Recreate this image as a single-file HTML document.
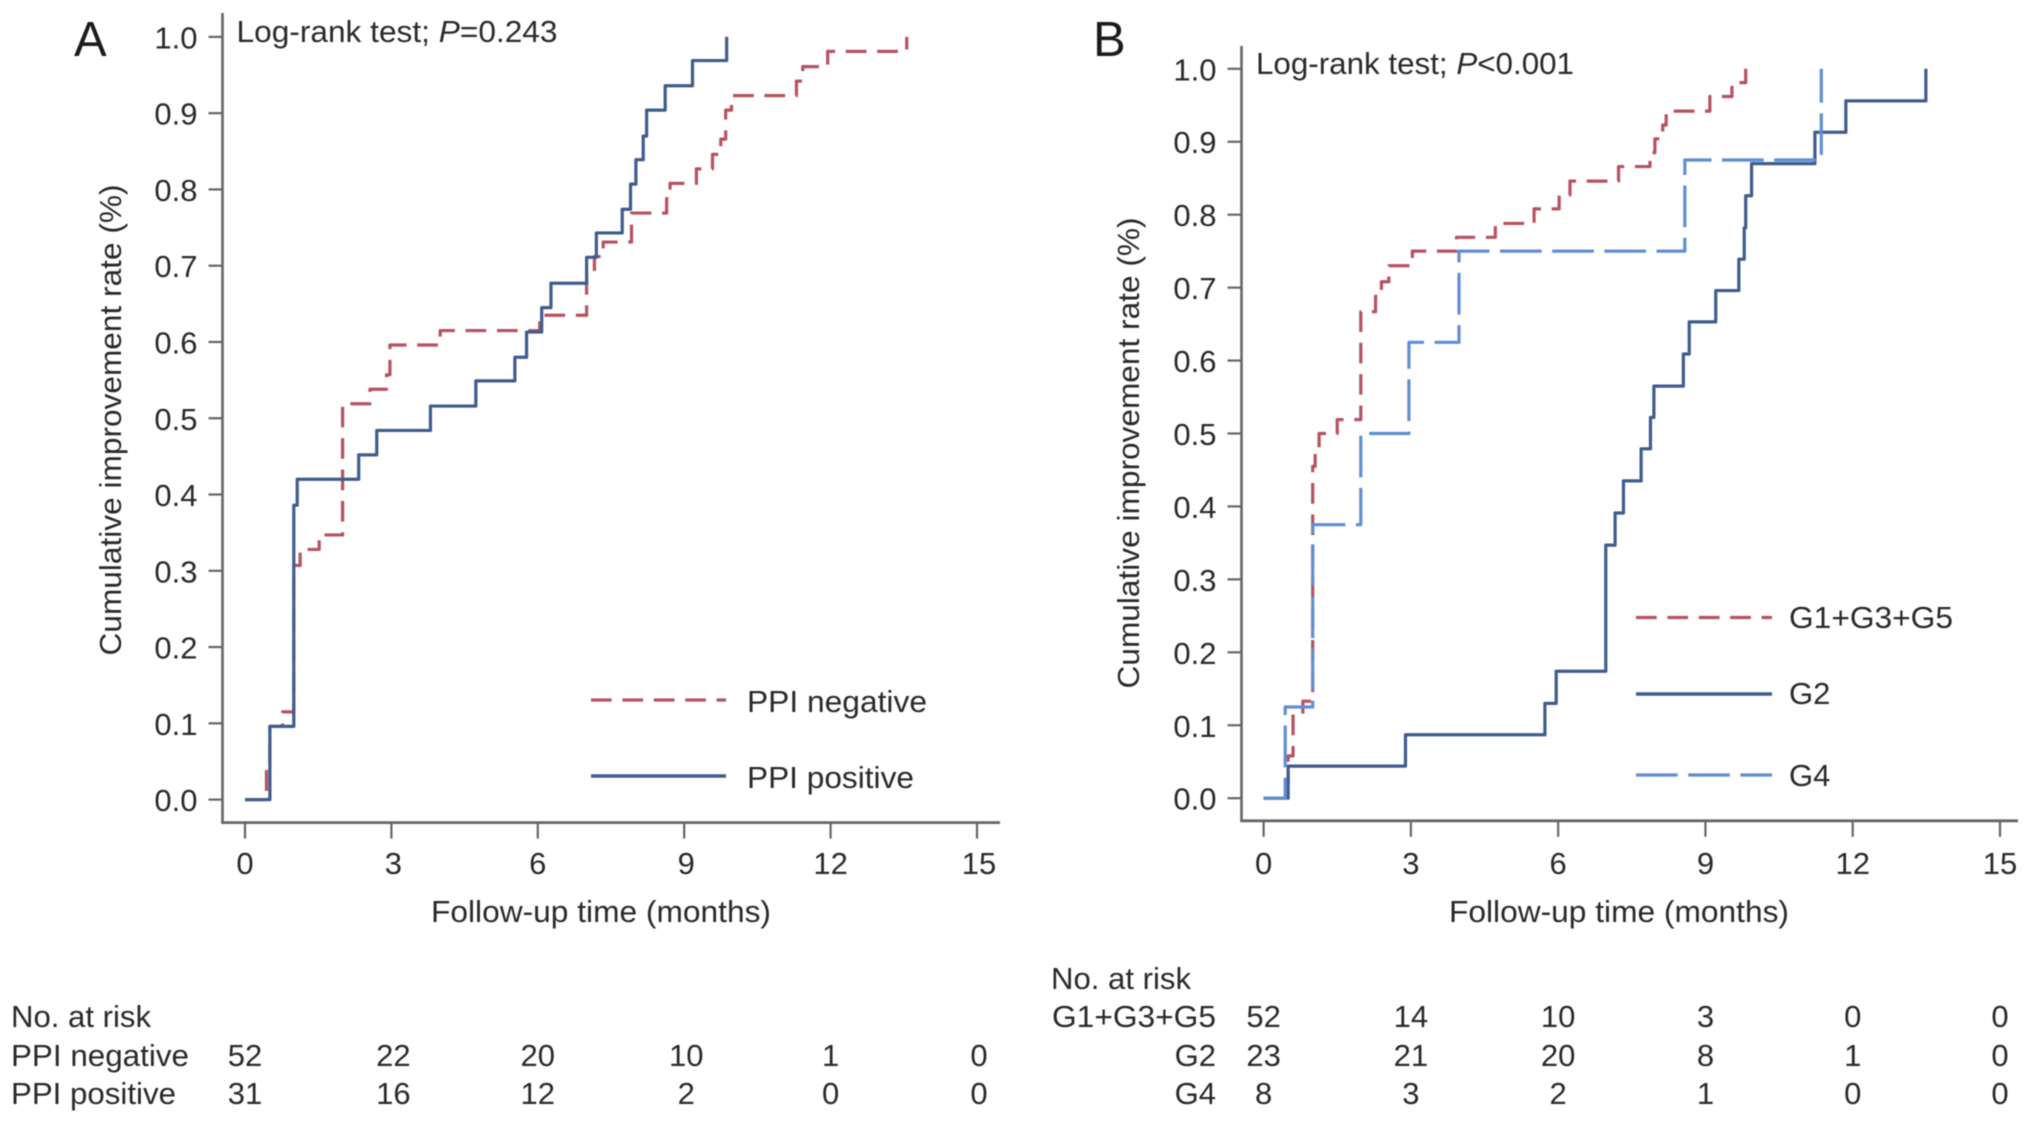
<!DOCTYPE html>
<html lang="en">
<head>
<meta charset="utf-8">
<title>Cumulative improvement rate curves</title>
<style>
  html, body { margin: 0; padding: 0; background: #fff; }
  svg { display: block; filter: blur(0.6px); }
  text { font-family: "Liberation Sans", sans-serif; font-size: 31px; fill: #2a2a2a; }
</style>
</head>
<body>
<svg id="figure" xmlns="http://www.w3.org/2000/svg" width="2032" height="1124" viewBox="0 0 2032 1124">
  <rect x="0" y="0" width="2032" height="1124" fill="#ffffff"/>

  <g id="panelA">
    <text x="74" y="56" style="font-size:49px;fill:#1c1c1c">A</text>
    <text x="236.5" y="42" textLength="321" lengthAdjust="spacingAndGlyphs">Log-rank test; <tspan font-style="italic">P</tspan>=0.243</text>
    <text transform="translate(121,420) rotate(-90)" text-anchor="middle" textLength="471" lengthAdjust="spacingAndGlyphs">Cumulative improvement rate (%)</text>
    <text x="601" y="922" text-anchor="middle" textLength="340" lengthAdjust="spacingAndGlyphs">Follow-up time (months)</text>
    <line x1="591" y1="700" x2="726" y2="700" stroke="#b7525f" stroke-width="3.2" stroke-dasharray="20.7 10.7"/>
    <text x="747" y="712" textLength="180" lengthAdjust="spacingAndGlyphs">PPI negative</text>
    <line x1="591" y1="776" x2="726" y2="776" stroke="#3f5c8e" stroke-width="3.4"/>
    <text x="747" y="788" textLength="167" lengthAdjust="spacingAndGlyphs">PPI positive</text>
    <text x="11" y="1027" textLength="140" lengthAdjust="spacingAndGlyphs">No. at risk</text>
    <text x="11" y="1066" textLength="178" lengthAdjust="spacingAndGlyphs">PPI negative</text>
    <text x="11" y="1104" textLength="165" lengthAdjust="spacingAndGlyphs">PPI positive</text>
  </g>

  <g id="panelB">
    <text x="1093" y="56" style="font-size:49px;fill:#1c1c1c">B</text>
    <text x="1256" y="74" textLength="318" lengthAdjust="spacingAndGlyphs">Log-rank test; <tspan font-style="italic">P</tspan>&lt;0.001</text>
    <text transform="translate(1139,453) rotate(-90)" text-anchor="middle" textLength="471" lengthAdjust="spacingAndGlyphs">Cumulative improvement rate (%)</text>
    <text x="1619" y="922" text-anchor="middle" textLength="340" lengthAdjust="spacingAndGlyphs">Follow-up time (months)</text>
    <line x1="1636" y1="617.5" x2="1772" y2="617.5" stroke="#b7525f" stroke-width="3.2" stroke-dasharray="20.7 10.7"/>
    <text x="1789" y="628" textLength="164" lengthAdjust="spacingAndGlyphs">G1+G3+G5</text>
    <line x1="1636" y1="694" x2="1772" y2="694" stroke="#3f5c8e" stroke-width="3.4"/>
    <text x="1789" y="704">G2</text>
    <line x1="1636" y1="775" x2="1772" y2="775" stroke="#5f8fd3" stroke-width="3.2" stroke-dasharray="41.7 10.5"/>
    <text x="1789" y="786">G4</text>
    <text x="1051" y="989" textLength="140" lengthAdjust="spacingAndGlyphs">No. at risk</text>
    <text x="1216" y="1027" text-anchor="end" textLength="164" lengthAdjust="spacingAndGlyphs">G1+G3+G5</text>
    <text x="1216" y="1066" text-anchor="end">G2</text>
    <text x="1216" y="1104" text-anchor="end">G4</text>
  </g>
</svg>

<script>
// Axis tick labels
const xTickLabels = [0, 3, 6, 9, 12, 15];
const yTickLabels = ['0.0', '0.1', '0.2', '0.3', '0.4', '0.5', '0.6', '0.7', '0.8', '0.9', '1.0'];

// Panel A: PPI negative
const ppiNegTimes = [0.44, 0.51, 0.77, 1.0, 1.13, 1.52, 2.0, 2.56, 2.9, 2.97, 4.0, 6.04, 7.0, 7.16, 7.34, 7.92, 8.64, 8.71, 9.25, 9.58, 9.75, 9.85, 9.97, 11.3, 11.43, 11.94, 13.56];
const ppiNegValues = [0.041, 0.096, 0.115, 0.307, 0.328, 0.347, 0.519, 0.538, 0.557, 0.596, 0.615, 0.635, 0.692, 0.712, 0.731, 0.769, 0.788, 0.808, 0.827, 0.846, 0.866, 0.904, 0.923, 0.942, 0.961, 0.981, 1.0];

// Panel A: PPI positive
const ppiPosTimes = [0.51, 1.0, 1.07, 2.33, 2.70, 3.80, 4.73, 5.53, 5.77, 6.08, 6.27, 7.0, 7.2, 7.73, 7.9, 8.01, 8.16, 8.23, 8.61, 9.17, 9.87];
const ppiPosValues = [0.096, 0.386, 0.42, 0.452, 0.484, 0.516, 0.549, 0.58, 0.613, 0.645, 0.677, 0.711, 0.743, 0.774, 0.807, 0.839, 0.87, 0.904, 0.936, 0.969, 1.0];

// Panel B: G1+G3+G5
const g135Times = [0.46, 0.5, 0.6, 0.8, 1.0, 1.05, 1.13, 1.5, 1.98, 2.28, 2.4, 2.55, 3.03, 3.93, 4.72, 5.51, 6.02, 6.24, 7.23, 7.87, 7.97, 8.13, 8.2, 9.09, 9.54, 9.82];
const g135Values = [0.02, 0.058, 0.115, 0.133, 0.455, 0.48, 0.5, 0.519, 0.667, 0.688, 0.708, 0.73, 0.75, 0.769, 0.788, 0.808, 0.827, 0.846, 0.866, 0.885, 0.904, 0.923, 0.942, 0.962, 0.981, 1.0];

// Panel B: G2
const g2Times = [0.5, 2.89, 5.73, 5.96, 6.97, 7.16, 7.33, 7.69, 7.88, 7.95, 8.55, 8.67, 9.21, 9.68, 9.79, 9.82, 9.94, 11.23, 11.86, 13.49];
const g2Values = [0.044, 0.087, 0.13, 0.174, 0.347, 0.391, 0.435, 0.479, 0.522, 0.565, 0.609, 0.653, 0.696, 0.739, 0.782, 0.826, 0.87, 0.913, 0.956, 1.0];

// Panel B: G4
const g4Times = [0.44, 1.0, 1.98, 2.96, 3.98, 8.58, 11.36];
const g4Values = [0.125, 0.375, 0.5, 0.625, 0.75, 0.875, 1.0];

// Numbers at risk
const riskPpiNeg = [52, 22, 20, 10, 1, 0];
const riskPpiPos = [31, 16, 12, 2, 0, 0];
const riskG135 = [52, 14, 10, 3, 0, 0];
const riskG2 = [23, 21, 20, 8, 1, 0];
const riskG4 = [8, 3, 2, 1, 0, 0];

const SVG_NS = 'http://www.w3.org/2000/svg';

function makeAxes(frame) {
  return {
    x: function (t) { return frame.x0 + t * (frame.x15 - frame.x0) / 15; },
    y: function (v) { return frame.y0 + v * (frame.y1 - frame.y0); }
  };
}

function drawAxes(group, frame, prefix) {
  const scale = makeAxes(frame);

  const yAxis = document.createElementNS(SVG_NS, 'line');
  
  
  yAxis.setAttribute('x1', frame.axisX);
  yAxis.setAttribute('x2', frame.axisX);
  yAxis.setAttribute('y1', frame.axisTop);
  yAxis.setAttribute('y2', frame.axisY);
  yAxis.setAttribute('stroke', '#666666');
  yAxis.setAttribute('stroke-width', '2.6');
  group.appendChild(yAxis);

  const xAxis = document.createElementNS(SVG_NS, 'line');
  
  
  xAxis.setAttribute('x1', frame.axisX - 1.3);
  xAxis.setAttribute('x2', frame.axisRight);
  xAxis.setAttribute('y1', frame.axisY);
  xAxis.setAttribute('y2', frame.axisY);
  xAxis.setAttribute('stroke', '#666666');
  xAxis.setAttribute('stroke-width', '2.8');
  group.appendChild(xAxis);

  yTickLabels.forEach(function (label) {
    const py = scale.y(parseFloat(label));

    const tick = document.createElementNS(SVG_NS, 'line');
    
    
    tick.setAttribute('x1', frame.axisX - 14);
    tick.setAttribute('x2', frame.axisX);
    tick.setAttribute('y1', py);
    tick.setAttribute('y2', py);
    tick.setAttribute('stroke', '#666666');
    tick.setAttribute('stroke-width', '2.2');
    group.appendChild(tick);

    const text = document.createElementNS(SVG_NS, 'text');
    
    
    text.setAttribute('x', frame.axisX - 25);
    text.setAttribute('y', py + 11.5);
    text.setAttribute('text-anchor', 'end');
    text.textContent = label;
    group.appendChild(text);
  });

  xTickLabels.forEach(function (label, i) {
    const px = scale.x(label);

    const tick = document.createElementNS(SVG_NS, 'line');
    
    
    tick.setAttribute('x1', px);
    tick.setAttribute('x2', px);
    tick.setAttribute('y1', frame.axisY);
    tick.setAttribute('y2', frame.axisY + 16);
    tick.setAttribute('stroke', '#666666');
    tick.setAttribute('stroke-width', '2.2');
    group.appendChild(tick);

    const text = document.createElementNS(SVG_NS, 'text');
    
    
    text.setAttribute('x', px + frame.labelShift * (i % 2 === 1 ? 1 : 0));
    text.setAttribute('y', 874);
    text.setAttribute('text-anchor', 'middle');
    text.textContent = label;
    group.appendChild(text);
  });
}

function drawCurve(group, frame, times, values, name, color, width, dash, dashOffset) {
  const scale = makeAxes(frame);
  let d = 'M' + scale.x(0) + ' ' + scale.y(0);
  times.forEach(function (t, i) {
    d += 'H' + scale.x(t) + 'V' + scale.y(values[i]);
  });
  const path = document.createElementNS(SVG_NS, 'path');
  
  
  path.setAttribute('d', d);
  path.setAttribute('fill', 'none');
  path.setAttribute('stroke', color);
  path.setAttribute('stroke-width', width);
  path.setAttribute('stroke-linejoin', 'round');
  if (dash) {
    path.setAttribute('stroke-dasharray', dash);
    path.setAttribute('stroke-dashoffset', dashOffset);
  }
  group.appendChild(path);
}

function drawRiskRow(group, frame, counts, baseline, name) {
  const scale = makeAxes(frame);
  counts.forEach(function (count, i) {
    const text = document.createElementNS(SVG_NS, 'text');
    
    
    text.setAttribute('x', scale.x(xTickLabels[i]) + frame.labelShift * (i % 2 === 1 ? 1 : 0));
    text.setAttribute('y', baseline);
    text.setAttribute('text-anchor', 'middle');
    text.textContent = count;
    group.appendChild(text);
  });
}

const frameA = { x0: 245, x15: 977, y0: 799.6, y1: 36.9, axisX: 222.5, axisY: 822.6, axisTop: 13, axisRight: 1000, labelShift: 2 };
const frameB = { x0: 1263.6, x15: 2000, y0: 798.2, y1: 68.8, axisX: 1241.5, axisY: 820.8, axisTop: 46, axisRight: 2018, labelShift: 0 };

const panelA = document.getElementById('panelA');
const panelB = document.getElementById('panelB');

drawAxes(panelA, frameA, 'panel-a');
drawCurve(panelA, frameA, ppiNegTimes, ppiNegValues, 'curve-ppi-negative', '#b7525f', 3.2, '20.7 10.7', 1.2);
drawCurve(panelA, frameA, ppiPosTimes, ppiPosValues, 'curve-ppi-positive', '#3f5c8e', 3.2);
drawRiskRow(panelA, frameA, riskPpiNeg, 1066, 'risk-count-ppi-negative');
drawRiskRow(panelA, frameA, riskPpiPos, 1104, 'risk-count-ppi-positive');

drawAxes(panelB, frameB, 'panel-b');
drawCurve(panelB, frameB, g135Times, g135Values, 'curve-g1-g3-g5', '#b7525f', 3.2, '20.7 10.7', 1.8);
drawCurve(panelB, frameB, g2Times, g2Values, 'curve-g2', '#3f5c8e', 3.2);
drawCurve(panelB, frameB, g4Times, g4Values, 'curve-g4', '#5f8fd3', 3.2, '41.7 10.5', 51.8);
drawRiskRow(panelB, frameB, riskG135, 1027, 'risk-count-g1-g3-g5');
drawRiskRow(panelB, frameB, riskG2, 1066, 'risk-count-g2');
drawRiskRow(panelB, frameB, riskG4, 1104, 'risk-count-g4');
</script>
</body>
</html>
